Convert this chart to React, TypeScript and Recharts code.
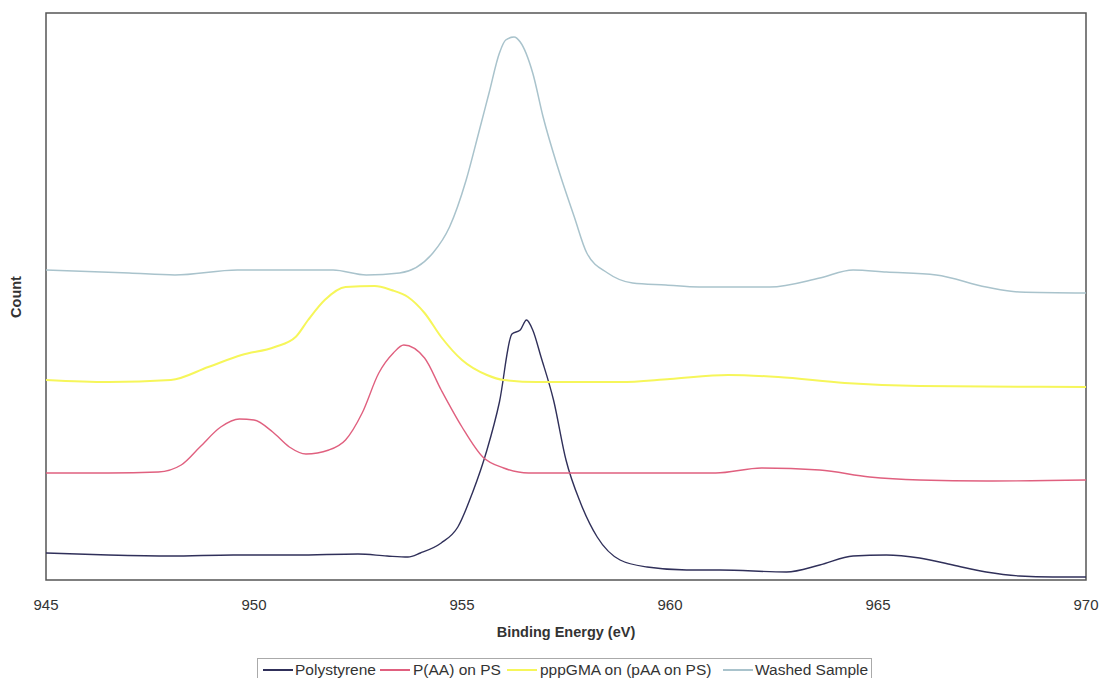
import React from "react";
import {
  LineChart,
  Line,
  XAxis,
  YAxis,
  ReferenceArea,
} from "recharts";

// Binding energy (eV) / counts, arbitrary count units
const psEnergy = [945, 946.5, 948, 949.5, 951, 952.5, 953.2, 953.7, 954.0, 954.5, 954.9, 955.25, 955.6, 955.9, 956.2, 956.4, 956.55, 956.7, 956.9, 957.2, 957.5, 957.85, 958.25, 958.8, 959.45, 960.4, 961.2, 962.8, 963.6, 964.4, 965.2, 966.0, 966.8, 967.6, 968.4, 969.2, 970];
const psCount = [27, 25, 24, 25, 25, 26, 24, 23, 27, 37, 53, 87, 130, 178, 246, 250, 260, 250, 223, 180, 120, 77, 43, 20, 13, 10, 10, 8, 15, 24, 25, 22, 15, 8, 4, 3, 3];

const paEnergy = [945, 946.5, 947.7, 948.25, 948.7, 949.2, 949.65, 950.0, 950.45, 950.85, 951.25, 951.8, 952.2, 952.6, 953.0, 953.35, 953.6, 954.1, 954.5, 955.0, 955.5, 956.0, 956.6, 958, 960, 961.1, 962.2, 963.6, 964.8, 966.0, 967.6, 970];
const paCount = [107, 107, 108, 115, 133, 153, 161, 160, 148, 133, 126, 130, 140, 167, 207, 227, 235, 222, 190, 153, 123, 112, 107, 107, 107, 107, 112, 110, 103, 100, 99, 100];

const gmEnergy = [945, 946.5, 948, 948.9, 949.7, 950.5, 951.0, 951.3, 951.7, 952.2, 952.9, 953.3, 953.7, 954.1, 954.5, 955.0, 955.6, 956.0, 956.8, 958.8, 960, 961.4, 962.6, 964.2, 966, 970];
const gmCount = [200, 198, 200, 213, 225, 233, 243, 260, 280, 293, 294, 290, 283, 267, 243, 220, 205, 200, 198, 198, 201, 205, 203, 197, 194, 193];

const wsEnergy = [945, 947, 948.1, 949.6, 951.9, 952.7, 953.5, 954.3, 954.7, 955.1, 955.4, 955.65, 955.9, 956.05, 956.25, 956.4, 956.7, 956.95, 957.3, 957.7, 958.0, 958.5, 959.1, 959.9, 960.7, 962.4, 963.6, 964.4, 965.2, 966.4, 967.6, 968.4, 970];
const wsCount = [310, 307, 305, 310, 310, 305, 307, 327, 353, 400, 447, 487, 527, 540, 543, 538, 507, 463, 413, 363, 327, 307, 297, 295, 293, 293, 302, 310, 308, 305, 293, 288, 287];

const xTicks = [945, 950, 955, 960, 965, 970];

const series = [
  { name: "Polystyrene", color: "#30305a", width: 1.4, energy: psEnergy, count: psCount },
  { name: "P(AA) on PS", color: "#e0607f", width: 1.4, energy: paEnergy, count: paCount },
  { name: "pppGMA on (pAA on PS)", color: "#f6f65a", width: 2, energy: gmEnergy, count: gmCount },
  { name: "Washed Sample", color: "#a9c3cc", width: 1.5, energy: wsEnergy, count: wsCount },
];

// legend item x positions (line start, text start) in page pixels
const legendLineX = [263, 380, 507, 723];
const legendTextX = [295, 413, 540, 755];

const FONT = '"Liberation Sans", Arial, sans-serif';

function toPoints(energy: number[], count: number[]) {
  return energy.map((ev, i) => ({ ev, count: count[i] }));
}

export default function App() {
  return (
    <div
      style={{
        position: "absolute",
        left: 0,
        top: 0,
        width: 1100,
        height: 678,
        background: "#fff",
        fontFamily: FONT,
        overflow: "hidden",
      }}
    >
      <LineChart
        width={1100}
        height={678}
        margin={{ top: 13, right: 14, left: 46, bottom: 38 }}
      >
        <XAxis
          dataKey="ev"
          type="number"
          domain={[945, 970]}
          ticks={xTicks}
          allowDataOverflow
          height={60}
          tickLine={false}
          axisLine={false}
          tickMargin={13}
          tick={{ fill: "#333", fontSize: 15, fontFamily: FONT }}
          label={{
            value: "Binding Energy (eV)",
            position: "insideBottom",
            offset: 3,
            style: { fill: "#333", fontSize: 14.5, fontWeight: "bold", fontFamily: FONT },
          }}
        />
        <YAxis type="number" domain={[0, 567]} hide />
        <ReferenceArea
          x1={945}
          x2={970}
          y1={0}
          y2={567}
          fill="none"
          stroke="#555"
          strokeWidth={1.5}
          ifOverflow="visible"
        />
        {series.map((s) => (
          <Line
            key={s.name}
            data={toPoints(s.energy, s.count)}
            dataKey="count"
            name={s.name}
            type="monotone"
            stroke={s.color}
            strokeWidth={s.width}
            dot={false}
            isAnimationActive={false}
          />
        ))}
      </LineChart>

      <div
        style={{
          position: "absolute",
          left: 16,
          top: 297,
          transform: "translate(-50%, -50%) rotate(-90deg)",
          fontSize: 14.5,
          fontWeight: "bold",
          color: "#333",
          whiteSpace: "nowrap",
        }}
      >
        Count
      </div>

      <div
        style={{
          position: "absolute",
          left: 257,
          top: 658,
          width: 615,
          height: 24,
          border: "1px solid #aaa",
          boxSizing: "border-box",
          fontSize: 15.5,
          color: "#333",
          whiteSpace: "nowrap",
        }}
      >
        {series.map((s, i) => (
          <React.Fragment key={s.name}>
            <div
              style={{
                position: "absolute",
                left: legendLineX[i] - 258,
                top: 10,
                width: 30,
                height: 1.5,
                background: s.color,
              }}
            />
            <span
              style={{
                position: "absolute",
                left: legendTextX[i] - 258,
                top: 2,
                lineHeight: "18px",
              }}
            >
              {s.name}
            </span>
          </React.Fragment>
        ))}
      </div>
    </div>
  );
}
